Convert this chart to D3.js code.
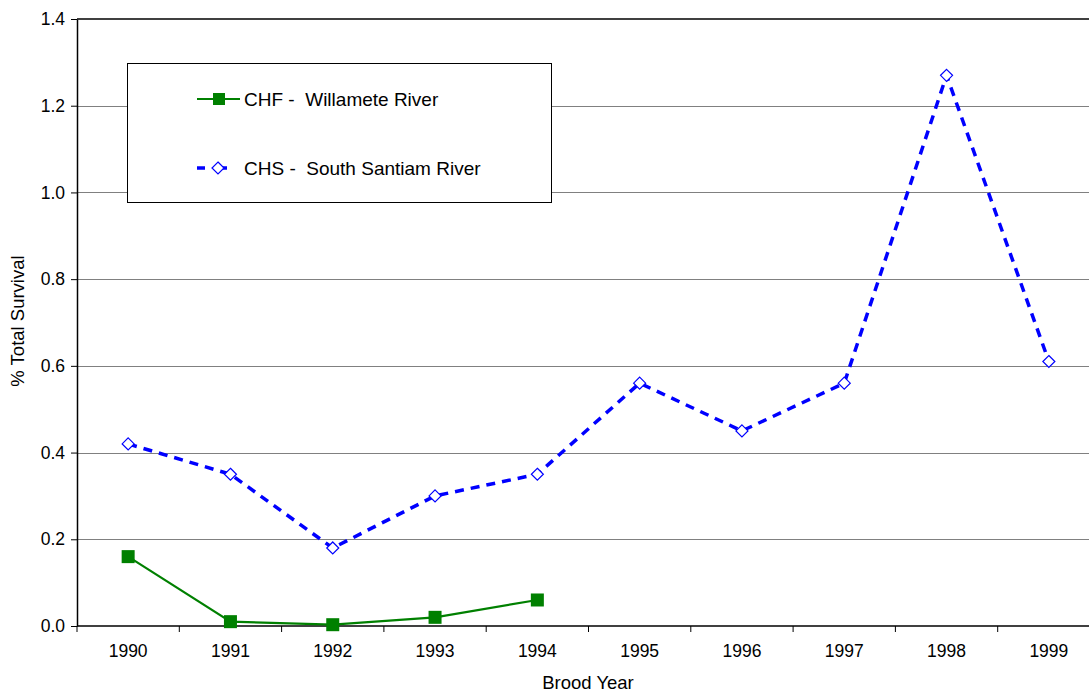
<!DOCTYPE html>
<html lang="en">
<head>
  <meta charset="utf-8">
  <title>% Total Survival by Brood Year</title>
  <script src="https://d3js.org/d3.v7.min.js"></script>
  <style>
    body{margin:0;background:#fff;overflow:hidden;font-family:"Liberation Sans",Arial,sans-serif;}
    text{fill:#000;}
  </style>
</head>
<body>
  <svg width="1089" height="692"></svg>
  <script>
    // data
    var years = ["1990","1991","1992","1993","1994","1995","1996","1997","1998","1999"];
    var chfValues = [0.16, 0.01, 0.003, 0.02, 0.06];
    var chsValues = [0.42, 0.35, 0.18, 0.30, 0.35, 0.56, 0.45, 0.56, 1.27, 0.61];
    var yTicks = [0, 0.2, 0.4, 0.6, 0.8, 1.0, 1.2, 1.4];

    var svg = d3.select("svg");
    var plotLeft = 77, plotTop = 19, plotBottom = 626, bandW = 102.3;

    var x = d3.scaleBand().domain(years).range([plotLeft, plotLeft + bandW * years.length]);
    var y = d3.scaleLinear().domain([0, 1.4]).range([plotBottom, plotTop]);

    // gridlines
    svg.append("g").selectAll("line")
      .data(yTicks.filter(function(d){ return d > 0 && d < 1.4; }))
      .enter().append("line")
        .attr("x1", plotLeft).attr("x2", 1089)
        .attr("y1", function(d){ return Math.round(y(d)) + 0.5; })
        .attr("y2", function(d){ return Math.round(y(d)) + 0.5; })
        .attr("stroke", "#808080").attr("stroke-width", 1);

    // top border of plot area
    svg.append("line").attr("x1", plotLeft).attr("x2", 1089).attr("y1", plotTop).attr("y2", plotTop)
      .attr("stroke", "#000").attr("stroke-width", 1.5);

    // y axis
    var yAxis = svg.append("g").attr("transform", "translate(" + plotLeft + ",0)")
      .call(d3.axisLeft(y).tickValues(yTicks).tickFormat(d3.format(".1f")).tickSize(6).tickPadding(6).tickSizeOuter(0));
    yAxis.select(".domain").attr("stroke-width", 1.5);
    yAxis.selectAll("text").attr("font-size", 17.5).attr("fill", "#000")
      .attr("font-family", "'Liberation Sans', Arial, sans-serif");

    // x axis: ticks at category boundaries
    var xg = svg.append("g").attr("transform", "translate(0," + plotBottom + ")");
    xg.append("line").attr("x1", plotLeft).attr("x2", 1089).attr("stroke", "#000").attr("stroke-width", 1.5);
    xg.selectAll(".tk").data(years).enter().append("line")
      .attr("x1", function(d){ return x(d); }).attr("x2", function(d){ return x(d); })
      .attr("y1", 0).attr("y2", 6).attr("stroke", "#000");
    xg.selectAll("text").data(years).enter().append("text")
      .attr("x", function(d){ return x(d) + x.bandwidth() / 2; })
      .attr("y", 31).attr("text-anchor", "middle").attr("font-size", 17.5)
      .text(function(d){ return d; });

    // axis titles
    svg.append("text").attr("x", 588).attr("y", 689).attr("text-anchor", "middle")
      .attr("font-size", 18.5).text("Brood Year");
    svg.append("text").attr("transform", "translate(24," + 321 + ") rotate(-90)")
      .attr("text-anchor", "middle").attr("font-size", 18.5).text("% Total Survival");

    var cx = function(i){ return x(years[i]) + x.bandwidth() / 2; };

    // CHS series
    var chsLine = d3.line().x(function(d, i){ return cx(i); }).y(function(d){ return y(d); });
    svg.append("path").datum(chsValues).attr("d", chsLine)
      .attr("fill", "none").attr("stroke", "#0000ff").attr("stroke-width", 3.5)
      .attr("stroke-dasharray", "9,7");
    svg.append("g").selectAll("path").data(chsValues).enter().append("path")
      .attr("d", "M0,-6L6,0L0,6L-6,0Z")
      .attr("transform", function(d, i){ return "translate(" + cx(i) + "," + y(d) + ")"; })
      .attr("fill", "#fff").attr("stroke", "#0000ff").attr("stroke-width", 1.2);

    // CHF series
    var chfLine = d3.line().x(function(d, i){ return cx(i); }).y(function(d){ return y(d); });
    svg.append("path").datum(chfValues).attr("d", chfLine)
      .attr("fill", "none").attr("stroke", "#008000").attr("stroke-width", 2.2);
    svg.append("g").selectAll("rect").data(chfValues).enter().append("rect")
      .attr("x", function(d, i){ return cx(i) - 6.5; })
      .attr("y", function(d){ return y(d) - 6.5; })
      .attr("width", 13).attr("height", 13).attr("fill", "#008000");

    // legend
    var lg = svg.append("g");
    lg.append("rect").attr("x", 127.5).attr("y", 63.5).attr("width", 424).attr("height", 139)
      .attr("fill", "#fff").attr("stroke", "#000").attr("stroke-width", 1);
    lg.append("line").attr("x1", 197).attr("x2", 240).attr("y1", 99).attr("y2", 99)
      .attr("stroke", "#008000").attr("stroke-width", 2.2);
    lg.append("rect").attr("x", 213).attr("y", 93).attr("width", 12).attr("height", 12).attr("fill", "#008000");
    lg.append("text").attr("x", 244).attr("y", 106).attr("font-size", 19).text("CHF -  Willamete River")
      .style("white-space", "pre");
    lg.append("line").attr("x1", 197).attr("x2", 240).attr("y1", 168).attr("y2", 168)
      .attr("stroke", "#0000ff").attr("stroke-width", 3.5).attr("stroke-dasharray", "8,14");
    lg.append("path").attr("d", "M0,-6L6,0L0,6L-6,0Z").attr("transform", "translate(218,168)")
      .attr("fill", "#fff").attr("stroke", "#0000ff").attr("stroke-width", 1.2);
    lg.append("text").attr("x", 244).attr("y", 175).attr("font-size", 19).text("CHS -  South Santiam River")
      .style("white-space", "pre");
  </script>
</body>
</html>
